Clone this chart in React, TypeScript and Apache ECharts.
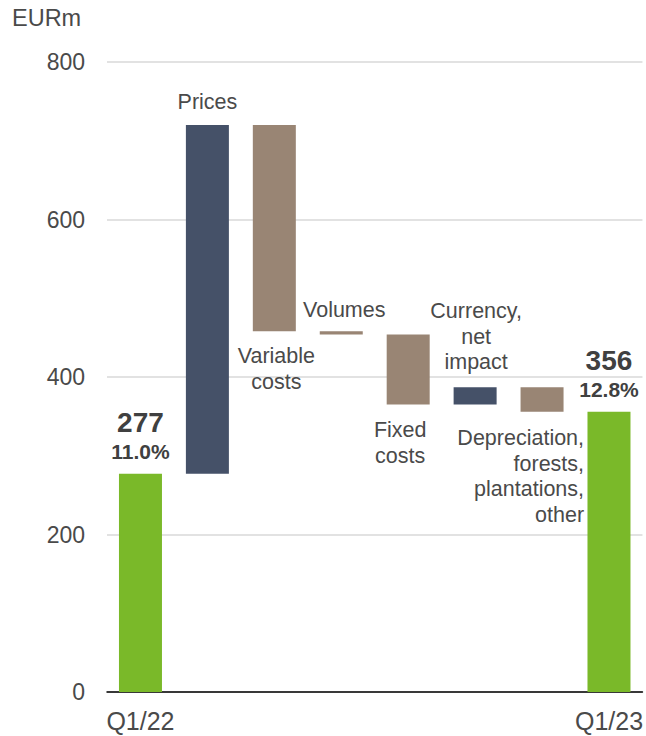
import React, { useEffect, useRef } from "react";
import * as echarts from "echarts";

const categories = [
  "Q1/22",
  "Prices",
  "Variable costs",
  "Volumes",
  "Fixed costs",
  "Currency, net impact",
  "Depreciation, forests, plantations, other",
  "Q1/23",
];
const barLabels = [
  "",
  "Prices",
  "Variable\ncosts",
  "Volumes",
  "Fixed\ncosts",
  "Currency,\nnet\nimpact",
  "Depreciation,\nforests,\nplantations,\nother",
  "",
];
const startValue = 277;
const changes = [443, -262, -4, -89, 22, -31];
const endValue = 356;
const margins = ["11.0%", "12.8%"];
const yTicks = [0, 200, 400, 600, 800];

const GREEN = "#7ab929";
const BLUE = "#455168";
const TAN = "#998574";
const TEXT = "#4a4a4a";
const FONT = "Liberation Sans, Arial, sans-serif";

export default function App() {
  const ref = useRef<HTMLDivElement>(null);
  useEffect(() => {
    document.body.style.margin = "0";
    if (!ref.current) return;
    const chart = echarts.init(ref.current, undefined, { renderer: "svg" });

    const bases: number[] = [0];
    const heights: number[] = [startValue];
    let run = startValue;
    changes.forEach((d) => {
      bases.push(Math.min(run, run + d));
      heights.push(Math.abs(d));
      run += d;
    });
    bases.push(0);
    heights.push(endValue);

    const place: Record<number, any> = {
      1: { position: "top", distance: 10, offset: [0, 0], align: "center" },
      2: { position: "bottom", distance: 12, offset: [2, 0], align: "center" },
      3: { position: "top", distance: 9, offset: [3, 0], align: "center" },
      4: { position: "bottom", distance: 13, offset: [-8, 0], align: "center" },
      5: { position: "top", distance: 12, offset: [1, 0], align: "center" },
      6: { position: "bottom", distance: 14, offset: [42, 0], align: "right" },
    };

    const totalLabel = (i: number) => ({
      show: true,
      position: "top",
      distance: 8,
      formatter: `{a|${i === 0 ? startValue : endValue}}\n{b|${margins[i === 0 ? 0 : 1]}}`,
      rich: {
        a: { fontSize: 28, fontWeight: "bold", color: "#404040", fontFamily: FONT, lineHeight: 30, align: "center" },
        b: { fontSize: 21, fontWeight: "bold", color: "#404040", fontFamily: FONT, lineHeight: 28, align: "center" },
      },
    });

    const visData = heights.map((h, i) => {
      const isTotal = i === 0 || i === heights.length - 1;
      const color = isTotal ? GREEN : changes[i - 1] > 0 ? BLUE : TAN;
      const p = place[i];
      return {
        value: h,
        itemStyle: { color },
        label: isTotal
          ? totalLabel(i)
          : {
              show: true,
              position: p.position,
              distance: p.distance,
              offset: p.offset,
              align: p.align,
              formatter: barLabels[i],
              color: TEXT,
              fontSize: 21.5,
              lineHeight: 25.5,
              fontFamily: FONT,
            },
      };
    });

    chart.setOption({
      animation: false,
      textStyle: { fontFamily: FONT },
      title: {
        text: "EURm",
        left: 7,
        top: 1,
        textStyle: { fontSize: 23.5, fontWeight: "normal", color: TEXT, fontFamily: FONT },
      },
      grid: { left: 107, right: 3, top: 62, bottom: 44, containLabel: false },
      xAxis: {
        type: "category",
        data: categories,
        axisLine: { show: true, lineStyle: { color: "#000", width: 1.5 } },
        axisTick: { show: false },
        axisLabel: {
          interval: 0,
          margin: 16,
          fontSize: 25,
          color: TEXT,
          fontFamily: FONT,
          formatter: (v: string, i: number) => (i === 0 || i === categories.length - 1 ? v : ""),
        },
      },
      yAxis: {
        type: "value",
        min: yTicks[0],
        max: yTicks[yTicks.length - 1],
        interval: 200,
        axisLine: { show: false },
        axisTick: { show: false },
        axisLabel: { margin: 22, fontSize: 23, color: TEXT, fontFamily: FONT },
        splitLine: { lineStyle: { color: "#d9d9d9", width: 1.5 } },
      },
      series: [
        {
          type: "bar",
          stack: "w",
          data: bases,
          barWidth: 43,
          itemStyle: { color: "transparent" },
          silent: true,
        },
        {
          type: "bar",
          stack: "w",
          data: visData,
          barWidth: 43,
        },
      ],
    });
    return () => chart.dispose();
  }, []);
  return <div ref={ref} style={{ width: 646, height: 736 }} />;
}
